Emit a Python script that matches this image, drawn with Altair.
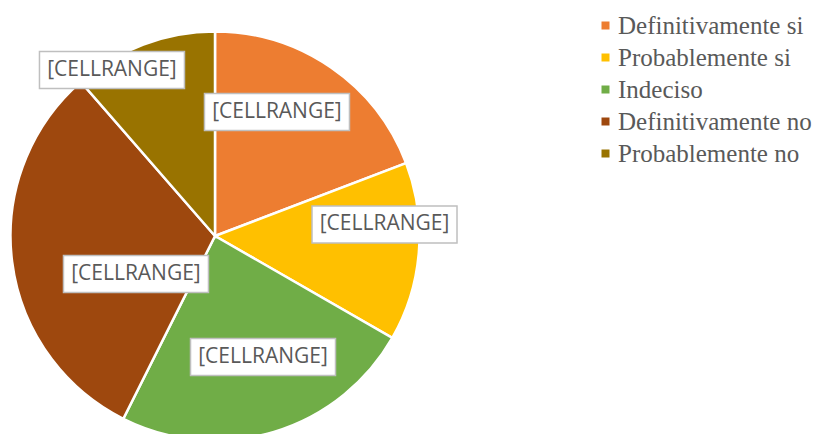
import altair as alt
import pandas as pd

# ---- data ----
categories = ["Definitivamente si", "Probablemente si", "Indeciso",
              "Definitivamente no", "Probablemente no"]
values = [19.2, 14.1, 24.1, 31.2, 11.4]
labels = ["[CELLRANGE]"] * 5

# ---- styles / layout ----
colors = ["#ED7D31", "#FFC000", "#70AD47", "#9E480E", "#997300"]
CX, CY, R = 207, 228, 204.5
# label placement (Excel "best fit"): distance from centre and angular shift from slice middle
label_radius = [138.6, 169.9, 130.2, 87.7, 195.4]
label_shift_deg = [-8.0, -8.4, -4.9, -18.5, -11.3]
BOX_W, BOX_H = 145, 37

df = pd.DataFrame({
    "category": categories,
    "value": values,
    "label": labels,
    "order": list(range(len(categories))),
    "lr": label_radius,
    "ls": label_shift_deg,
})

base = alt.Chart(df)

pie = base.mark_arc(radius=R, stroke="white", strokeWidth=2.5).encode(
    theta=alt.Theta("value:Q", stack=True),
    color=alt.Color(
        "category:N",
        sort=categories,
        scale=alt.Scale(domain=categories, range=colors),
        legend=alt.Legend(
            title=None, orient="none", legendX=585, legendY=5,
            symbolType="square", symbolSize=64, symbolStrokeWidth=0,
            labelFont="Liberation Serif", labelFontSize=25,
            labelColor="#595959", labelOffset=0, rowPadding=6,
            padding=0, labelLimit=0,
        ),
    ),
    order=alt.Order("order:Q"),
    x=alt.value(CX),
    y=alt.value(CY),
)

pos = (
    base.transform_window(cum="sum(value)", sort=[alt.SortField("order")], frame=[None, 0])
    .transform_joinaggregate(total="sum(value)")
    .transform_calculate(ang="(datum.cum - datum.value/2)/datum.total*2*PI + datum.ls*PI/180")
    .transform_calculate(lx=f"{CX} + datum.lr*sin(datum.ang)")
    .transform_calculate(ly=f"{CY} - datum.lr*cos(datum.ang)")
    .transform_calculate(bx1=f"datum.lx - {BOX_W/2}")
    .transform_calculate(bx2=f"datum.lx + {BOX_W/2}")
    .transform_calculate(by1=f"datum.ly - {BOX_H/2}")
    .transform_calculate(by2=f"datum.ly + {BOX_H/2}")
)

boxes = pos.mark_rect(fill="white", stroke="#BFBFBF", strokeWidth=1.5).encode(
    x=alt.X("bx1:Q", scale=None),
    x2="bx2:Q",
    y=alt.Y("by1:Q", scale=None),
    y2="by2:Q",
)

texts = pos.mark_text(font="Open Sans", fontSize=21, color="#595959",
                      align="center", baseline="middle").encode(
    x=alt.X("lx:Q", scale=None),
    y=alt.Y("ly:Q", scale=None),
    text="label:N",
)

chart = alt.layer(pie, boxes, texts).properties(
    width=810, height=426, padding=0, autosize="none"
).configure_view(stroke=None)

chart.save("out.html", embed_options={"renderer": "svg", "actions": False})
